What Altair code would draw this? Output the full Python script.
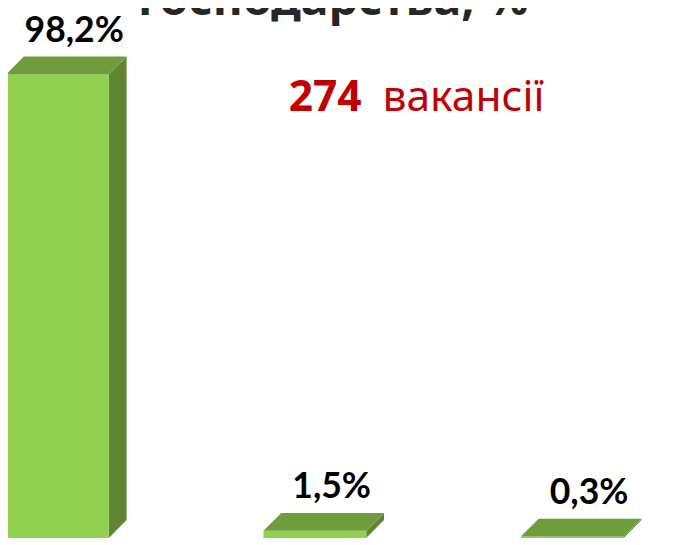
import altair as alt
import pandas as pd

# Data
labels = ["98,2%", "1,5%", "0,3%"]
values = [98.2, 1.5, 0.3]
positions = [0, 1, 2]

headline_num = "274"
headline_word = "вакансії"
title_tail = "господарства, %"

# 3-D look (style constants)
HALF_W = 52 / 260.5   # half width of front face in x-units
DX = 18 / 260.5       # depth in x-units
DY = 18 / 4.776       # depth in y-units

front_rows, top_rows, side_rows = [], [], []
for p, v, lab in zip(positions, values, labels):
    x0, x1 = p - HALF_W, p + HALF_W
    front_rows.append({"id": p, "x0": x0, "x1": x1, "v": v, "label": lab, "xc": p})
    top_rows += [
        {"id": p, "x": x0, "hi": v, "lo": v},
        {"id": p, "x": x0 + DX, "hi": v + DY, "lo": v},
        {"id": p, "x": x1, "hi": v + DY, "lo": v},
        {"id": p, "x": x1 + DX, "hi": v + DY, "lo": v + DY},
    ]
    side_rows += [
        {"id": p, "x": x1, "hi": v, "lo": 0},
        {"id": p, "x": x1 + DX, "hi": v + DY, "lo": DY},
    ]

front = pd.DataFrame(front_rows)
top = pd.DataFrame(top_rows)
side = pd.DataFrame(side_rows)

xs = alt.Scale(domain=[-50 / 260.5, 630 / 260.5], nice=False, zero=False)
ys = alt.Scale(domain=[-4 / 4.776, 533 / 4.776], nice=False, zero=False)

front_layer = alt.Chart(front).mark_rect(color="#92D050").encode(
    x=alt.X("x0:Q", scale=xs, axis=None),
    x2="x1:Q",
    y=alt.Y("v:Q", scale=ys, axis=None),
    y2=alt.datum(0),
)

top_layer = alt.Chart(top).mark_area(color="#6F9C3D", interpolate="linear").encode(
    x=alt.X("x:Q", scale=xs, axis=None),
    y=alt.Y("hi:Q", scale=ys, axis=None),
    y2="lo:Q",
    detail="id:N",
)

side_layer = alt.Chart(side).mark_area(color="#5E8633", interpolate="linear").encode(
    x=alt.X("x:Q", scale=xs, axis=None),
    y=alt.Y("hi:Q", scale=ys, axis=None),
    y2="lo:Q",
    detail="id:N",
)

label_layer = alt.Chart(front).mark_text(
    font="Lato", fontWeight="bold", fontSize=36, color="#000000",
    baseline="alphabetic", align="center", dx=17, dy=-33,
).encode(
    x=alt.X("xc:Q", scale=xs, axis=None),
    y=alt.Y("v:Q", scale=ys, axis=None),
    text="label:N",
)

ann = pd.DataFrame({"num": [headline_num], "word": [headline_word], "title": [title_tail]})

num_layer = alt.Chart(ann).mark_text(
    font="Noto Sans", fontWeight="bold", fontSize=43, color="#C00000",
    align="left", baseline="alphabetic",
).encode(x=alt.value(284), y=alt.value(101), text="num:N")

word_layer = alt.Chart(ann).mark_text(
    font="Noto Sans", fontSize=43, color="#C00000",
    align="left", baseline="alphabetic",
).encode(x=alt.value(379), y=alt.value(101), text="word:N")

title_layer = alt.Chart(ann).mark_text(
    font="Noto Sans", fontWeight="bold", fontSize=47, color="#262626",
    align="center", baseline="alphabetic",
).encode(x=alt.value(329), y=alt.value(4), text="title:N")

chart = alt.layer(
    side_layer, front_layer, top_layer, label_layer, num_layer, word_layer, title_layer
).properties(
    width=680, height=537, padding=0,
    autosize=alt.AutoSizeParams(type="none"),
).configure_view(stroke=None)

chart.save("out.html", embed_options={"renderer": "svg", "actions": False})
